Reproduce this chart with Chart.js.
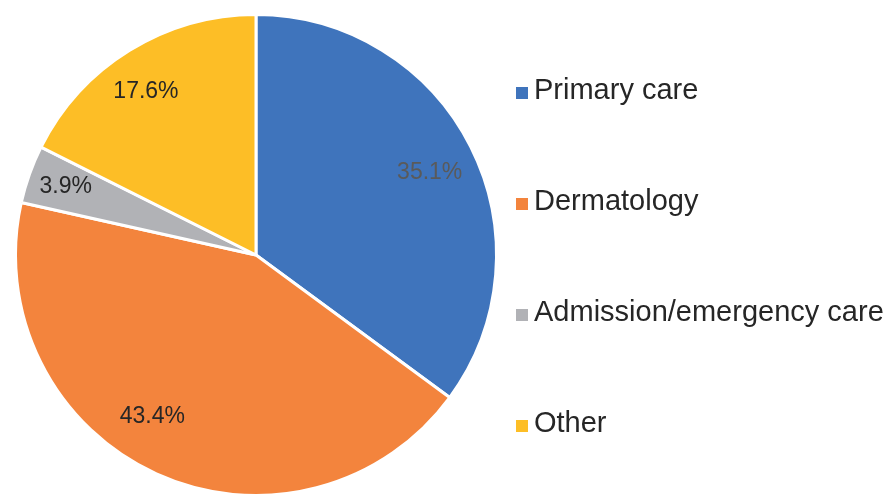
<!DOCTYPE html>
<html>
<head>
<meta charset="utf-8">
<script src="https://cdn.jsdelivr.net/npm/chart.js@4"></script>
<style>
    html, body { margin: 0; padding: 0; background: #fff; overflow: hidden; }
    #wrap { position: relative; width: 890px; height: 500px; }
</style>
</head>
<body>
<div id="wrap"><canvas id="shareChart"></canvas></div>
<script>
// Veriler (resimden okunan yüzdeler)
const categories = ['Primary care', 'Dermatology', 'Admission/emergency care', 'Other'];
const shares = [35.1, 43.4, 3.9, 17.6];

const sliceColors = ['#3F74BC', '#F3843D', '#B1B2B6', '#FDBE26'];
const labelColors = ['#5A5A5A', '#262626', '#262626', '#262626'];
// Excel etiketleri tam ortada değil, küçük kaydırmalar (px)
const labelNudge = [[2, 4], [-24, -13], [-9, -4], [-9, 0]];
const fontFamily = '"Liberation Sans", Arial, sans-serif';

// Dilimlerin içine yüzde yazan eklenti
const sliceLabels = {
    id: 'sliceLabels',
    afterDatasetsDraw(chart) {
        const ctx = chart.ctx;
        const meta = chart.getDatasetMeta(0);
        ctx.save();
        ctx.font = '23px ' + fontFamily;
        ctx.textAlign = 'center';
        ctx.textBaseline = 'middle';
        meta.data.forEach((arc, i) => {
            const p = arc.getProps(['x', 'y', 'startAngle', 'endAngle', 'outerRadius'], true);
            const mid = (p.startAngle + p.endAngle) / 2;
            const r = p.outerRadius * 0.8;
            ctx.fillStyle = labelColors[i];
            ctx.fillText(shares[i].toFixed(1) + '%',
                p.x + Math.cos(mid) * r + labelNudge[i][0],
                p.y + Math.sin(mid) * r + labelNudge[i][1]);
        });
        ctx.restore();
    }
};

// Sağdaki lejant (Excel tarzı, geniş aralıklı)
const sideLegend = {
    id: 'sideLegend',
    afterDraw(chart) {
        const ctx = chart.ctx;
        ctx.save();
        ctx.font = '29px ' + fontFamily;
        ctx.textBaseline = 'alphabetic';
        ctx.textAlign = 'left';
        chart.data.labels.forEach((label, i) => {
            const baseline = 99 + i * 111;
            ctx.fillStyle = sliceColors[i];
            ctx.fillRect(516, baseline - 12, 12, 12);
            ctx.fillStyle = '#262626';
            ctx.fillText(label, 534, baseline);
        });
        ctx.restore();
    }
};

new Chart(document.getElementById('shareChart'), {
    type: 'pie',
    data: {
        labels: categories,
        datasets: [{
            data: shares,
            backgroundColor: sliceColors,
            borderColor: '#ffffff',
            borderWidth: 3
        }]
    },
    options: {
        responsive: true,
        maintainAspectRatio: false,
        animation: false,
        layout: { padding: { left: 14, top: 13, right: 392, bottom: 3 } },
        plugins: {
            legend: { display: false },
            tooltip: { enabled: false }
        }
    },
    plugins: [sliceLabels, sideLegend]
});
</script>
</body>
</html>
